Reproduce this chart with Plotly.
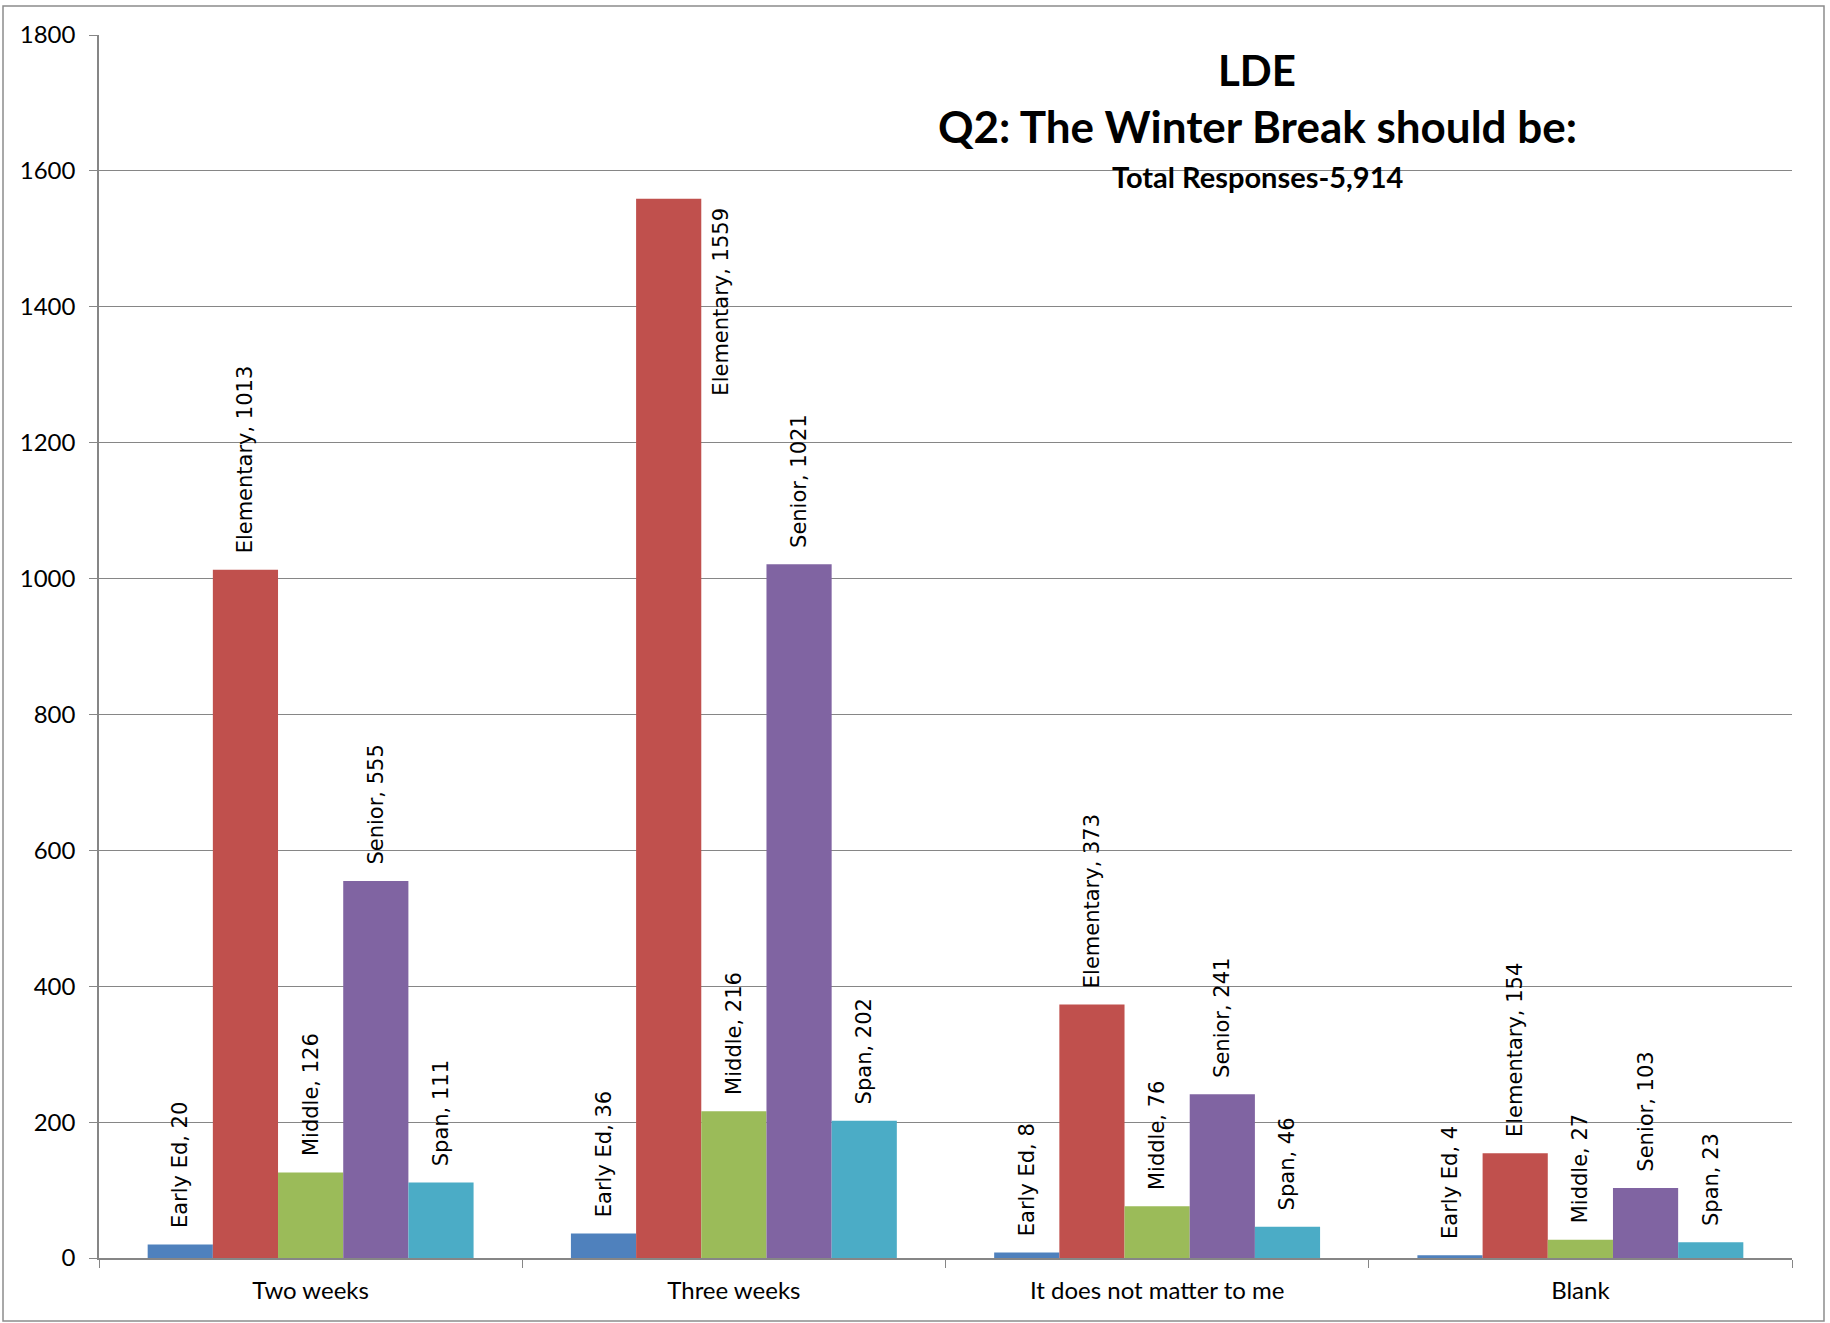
import plotly.graph_objects as go

categories = ["Two weeks", "Three weeks", "It does not matter to me", "Blank"]
series_names = ["Early Ed", "Elementary", "Middle", "Senior", "Span"]
early_ed = [20, 36, 8, 4]
elementary = [1013, 1559, 373, 154]
middle = [126, 216, 76, 27]
senior = [555, 1021, 241, 103]
span = [111, 202, 46, 23]
series_values = [early_ed, elementary, middle, senior, span]
colors = ["#4F81BD", "#C0504D", "#9BBB59", "#8064A2", "#4BACC6"]
y_ticks = [0, 200, 400, 600, 800, 1000, 1200, 1400, 1600, 1800]

title_lines = ["LDE", "Q2: The Winter Break should be:", "Total Responses-5,914"]

Y_MAX = 1800
LABEL_FONT = dict(family="DejaVu Sans", size=21, color="black")
PAD = "\u00a0\u00a0"

fig = go.Figure()
side_labels = []
for name, vals, col in zip(series_names, series_values, colors):
    texts = []
    for cat, v in zip(categories, vals):
        t = f"{name}, {v}"
        # labels that would not fit above the axis max are placed beside the bar
        if v > Y_MAX * 0.8:
            side_labels.append((cat, v, t))
            texts.append("")
        else:
            texts.append(PAD + t)
    fig.add_trace(go.Bar(
        name=name, x=categories, y=vals, marker_color=col,
        marker_line_width=0,
        text=texts, textposition="outside", textangle=-90,
        textfont=LABEL_FONT, constraintext="none", cliponaxis=False,
    ))

for cat, v, t in side_labels:
    fig.add_annotation(x=cat, y=v, xref="x", yref="y", text=t, textangle=-90,
                       showarrow=False, font=LABEL_FONT, xanchor="center",
                       yanchor="middle", xshift=-13, yshift=-103)

title_sizes = [42, 44, 29]
title_y = [0.971, 0.9256, 0.8847]
for txt, sz, yy in zip(title_lines, title_sizes, title_y):
    fig.add_annotation(x=0.684, y=yy, xref="paper", yref="paper",
                       text=f"<b>{txt}</b>", showarrow=False,
                       font=dict(family="Lato", size=sz, color="black"),
                       xanchor="center", yanchor="middle")

# outer chart border
fig.add_shape(type="rect", xref="paper", yref="paper",
              x0=-0.0567, x1=1.0189, y0=-0.0515, y1=1.0237,
              line=dict(color="#8C8C8C", width=1.5), fillcolor="rgba(0,0,0,0)")

fig.update_layout(
    width=1830, height=1323,
    margin=dict(l=99, r=38, t=35, b=65),
    barmode="group", bargap=0.23, bargroupgap=0,
    showlegend=False,
    plot_bgcolor="white", paper_bgcolor="white",
    font=dict(family="Lato", size=24, color="black"),
)
fig.update_yaxes(range=[0, Y_MAX], tickvals=y_ticks, showgrid=True,
                 gridcolor="#868686", gridwidth=1.3, showline=True,
                 linecolor="#868686", linewidth=1.5, ticks="outside",
                 ticklen=8, tickcolor="#868686", tickwidth=1.3,
                 ticklabelstandoff=9,
                 tickfont=dict(family="Lato", size=24, color="black"),
                 zeroline=False, fixedrange=True)
fig.update_xaxes(showline=True, linecolor="#868686", linewidth=1.5,
                 ticks="outside", tickson="boundaries", ticklen=8,
                 tickcolor="#868686", tickwidth=1.3,
                 ticklabelstandoff=10,
                 tickfont=dict(family="Lato", size=24, color="black"),
                 mirror=False, fixedrange=True)

fig.write_html("out.html", config={"displayModeBar": False},
               post_script="document.body.style.margin='0';")
